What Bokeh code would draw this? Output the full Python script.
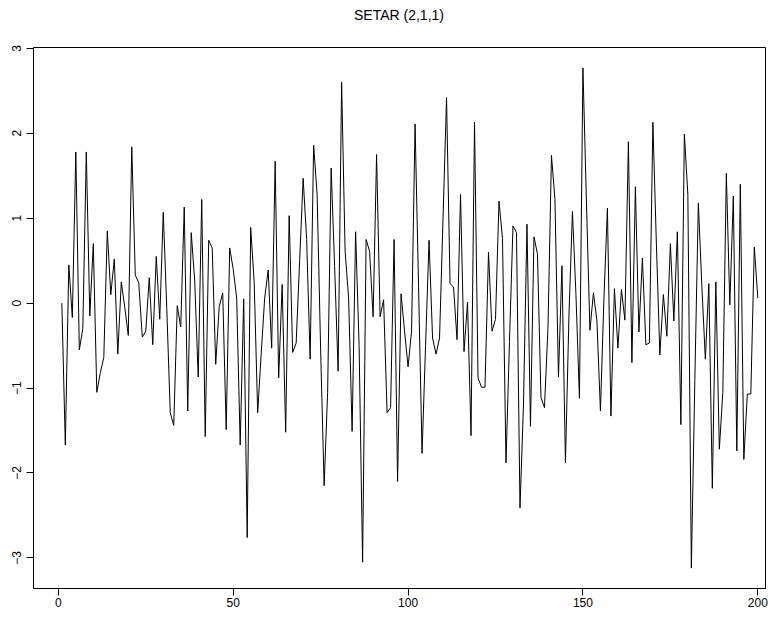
from bokeh.plotting import figure
from bokeh.models import Range1d, FixedTicker, ColumnDataSource, Div
from bokeh.layouts import column
from bokeh.embed import file_html
from bokeh.resources import INLINE

# Simulated SETAR(2,1,1) series (t = 1..200)
series_values = [
    0.00, -1.67, 0.45, -0.17, 1.78, -0.55, -0.30, 1.78, -0.15, 0.70,
    -1.05, -0.82, -0.64, 0.85, 0.10, 0.52, -0.60, 0.25, -0.05, -0.38,
    1.84, 0.33, 0.24, -0.40, -0.33, 0.30, -0.49, 0.55, -0.19, 1.07,
    -0.05, -1.29, -1.44, -0.03, -0.28, 1.13, -1.27, 0.83, 0.26, -0.87,
    1.22, -1.57, 0.74, 0.65, -0.72, -0.04, 0.12, -1.49, 0.65, 0.40,
    0.06, -1.67, 0.05, -2.76, 0.89, 0.25, -1.29, -0.60, 0.06, 0.39,
    -0.53, 1.67, -0.88, 0.22, -1.52, 1.03, -0.58, -0.47, 0.50, 1.47,
    0.75, -0.66, 1.86, 1.28, -0.55, -2.15, -1.05, 1.59, 0.43, -0.80,
    2.60, 0.61, 0.06, -1.51, 0.84, -0.50, -3.05, 0.75, 0.61, -0.16,
    1.75, -0.16, 0.04, -1.29, -1.23, 0.75, -2.10, 0.11, -0.33, -0.75,
    -0.33, 2.11, 0.20, -1.77, -0.50, 0.74, -0.41, -0.60, -0.41, 1.00,
    2.42, 0.23, 0.19, -0.43, 1.28, -0.57, 0.01, -1.56, 2.13, -0.88,
    -0.99, -0.99, 0.60, -0.33, -0.19, 1.20, 0.76, -1.88, -0.45, 0.91,
    0.83, -2.41, -1.20, 0.93, -1.45, 0.78, 0.58, -1.11, -1.23, -0.30,
    1.74, 1.22, -0.87, 0.44, -1.88, -0.15, 1.08, 0.10, -1.12, 2.77,
    1.20, -0.32, 0.12, -0.21, -1.27, 0.05, 1.12, -1.33, 0.17, -0.53,
    0.16, -0.20, 1.90, -0.70, 1.37, -0.34, 0.53, -0.49, -0.47, 2.13,
    0.70, -0.61, 0.10, -0.39, 0.70, -0.21, 0.84, -1.43, 1.99, 1.28,
    -3.12, -0.90, 1.18, 0.20, -0.66, 0.23, -2.18, 0.25, -1.72, -1.05,
    1.53, -0.02, 1.26, -1.74, 1.40, -1.84, -1.07, -1.07, 0.66, 0.06,
]
time_index = list(range(1, len(series_values) + 1))
x_ticks = [0, 50, 100, 150, 200]
y_ticks = [-3, -2, -1, 0, 1, 2, 3]
title_text = "SETAR (2,1,1)"

FONT = "Liberation Sans"
W = 780
TITLE_H = 30

header = Div(
    text=(f'<div style="margin-left:18px; width:762px; text-align:center; '
          f'font-family:\'{FONT}\'; font-size:14px; line-height:{TITLE_H}px; '
          f'color:black;">{title_text}</div>'),
    width=W, height=TITLE_H, margin=0,
)

p = figure(
    width=W, height=617 - TITLE_H,
    output_backend="svg", toolbar_location=None,
    x_range=Range1d(-7.1, 202.2), y_range=Range1d(-3.36, 3.01),
    min_border_left=33, min_border_right=15,
    min_border_top=47 - TITLE_H, min_border_bottom=29,
    margin=0,
)

p.outline_line_color = "black"
p.outline_line_width = 1
p.xgrid.visible = False
p.ygrid.visible = False
p.background_fill_color = "white"
p.border_fill_color = "white"

for ax in (p.xaxis[0], p.yaxis[0]):
    ax.axis_line_color = "black"
    ax.major_tick_line_color = "black"
    ax.major_tick_in = 0
    ax.major_tick_out = 7
    ax.minor_tick_line_color = None
    ax.major_label_text_font = FONT
    ax.major_label_text_font_size = "12px"
    ax.major_label_text_color = "black"

p.xaxis[0].ticker = FixedTicker(ticks=x_ticks)
p.yaxis[0].ticker = FixedTicker(ticks=y_ticks)
p.xaxis[0].major_label_standoff = 2
p.yaxis[0].major_label_standoff = 5
p.yaxis[0].major_label_orientation = "vertical"

src = ColumnDataSource(dict(t=time_index, y=series_values))
p.line("t", "y", source=src, line_color="black", line_width=1)

layout = column(header, p, spacing=0, margin=0)
open("out.html", "w").write(file_html(layout, INLINE))
